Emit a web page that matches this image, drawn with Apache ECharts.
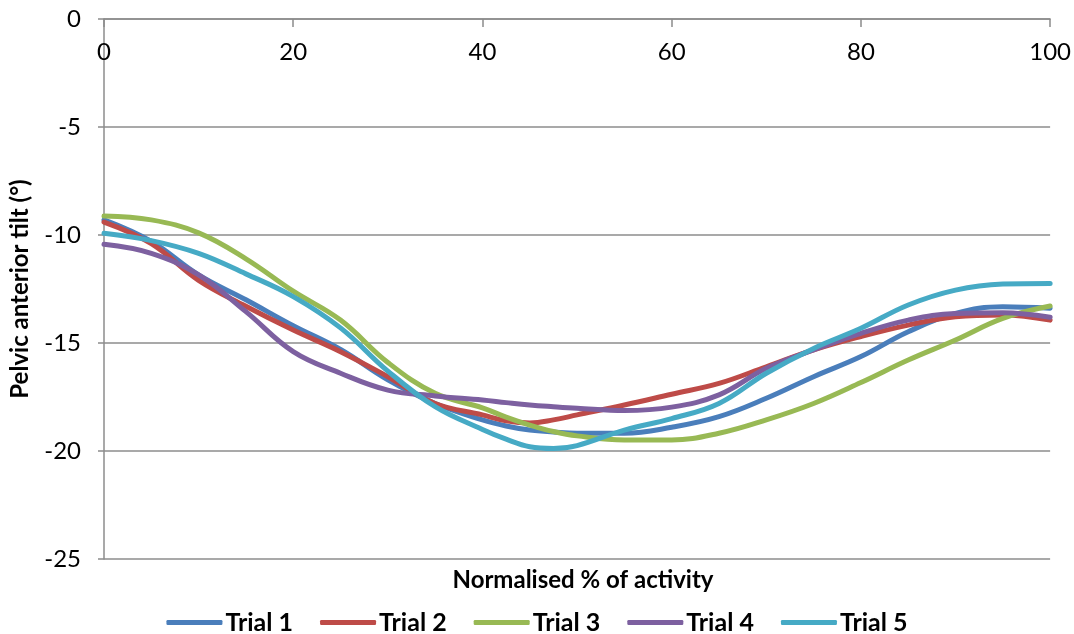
<!DOCTYPE html>
<html>
<head>
<meta charset="utf-8">
<title>Pelvic anterior tilt</title>
<script src="https://cdn.jsdelivr.net/npm/echarts@6/dist/echarts.min.js"></script>
<style>
  html, body { margin: 0; padding: 0; background: #ffffff; }
  #chart { width: 1074px; height: 634px; }
</style>
</head>
<body>
<div id="chart"></div>
<script>
// Normalised % of activity (x positions of the samples)
const activity = [0, 5, 10, 15, 20, 25, 30, 35, 40, 42.5, 45, 47.5, 50, 55, 60, 65, 70, 75, 80, 85, 90, 95, 100];

// Pelvic anterior tilt (degrees) per trial
const trial1 = [-9.3, -10.3, -11.85, -13.0, -14.2, -15.3, -16.7, -17.8, -18.56, -18.84, -19.03, -19.12, -19.18, -19.18, -18.9, -18.41, -17.56, -16.56, -15.63, -14.48, -13.63, -13.32, -13.39];
const trial2 = [-9.4, -10.4, -12.1, -13.3, -14.4, -15.4, -16.56, -17.8, -18.33, -18.6, -18.7, -18.56, -18.33, -17.87, -17.37, -16.87, -16.1, -15.32, -14.7, -14.17, -13.78, -13.7, -13.94];
const trial3 = [-9.12, -9.3, -9.9, -11.1, -12.6, -13.94, -15.9, -17.33, -18.0, -18.43, -18.8, -19.1, -19.3, -19.49, -19.49, -19.18, -18.56, -17.8, -16.83, -15.79, -14.86, -13.86, -13.29];
const trial4 = [-10.43, -10.85, -11.85, -13.55, -15.4, -16.4, -17.18, -17.45, -17.64, -17.76, -17.87, -17.95, -18.02, -18.13, -17.97, -17.4, -16.17, -15.32, -14.55, -13.94, -13.63, -13.6, -13.81];
const trial5 = [-9.92, -10.26, -10.85, -11.8, -12.85, -14.3, -16.3, -17.95, -19.0, -19.45, -19.8, -19.88, -19.75, -19.03, -18.5, -17.8, -16.4, -15.25, -14.32, -13.24, -12.55, -12.27, -12.24];

const seriesNames = ['Trial 1', 'Trial 2', 'Trial 3', 'Trial 4', 'Trial 5'];
const seriesValues = [trial1, trial2, trial3, trial4, trial5];
const seriesColors = ['#4A7EBB', '#BE4B48', '#98B954', '#7D60A0', '#46AAC5'];

const xTicks = { min: 0, max: 100, interval: 20 };
const yTicks = { min: -25, max: 0, interval: 5 };

const FONT = 'Lato, "Open Sans", sans-serif';
const GRID_COLOR = '#8C8C8C';

const chart = echarts.init(document.getElementById('chart'), null, { renderer: 'canvas' });

chart.setOption({
  backgroundColor: '#ffffff',
  animation: false,
  title: {
    text: 'Normalised % of activity',
    left: 578,
    top: 563,
    textAlign: 'center',
    textStyle: { fontFamily: FONT, fontSize: 24, fontWeight: 'bold', color: '#000000' }
  },
  legend: {
    top: 605,
    left: 'center',
    itemWidth: 56,
    itemHeight: 5,
    itemGap: 27,
    icon: 'roundRect',
    data: seriesNames,
    textStyle: { fontFamily: FONT, fontSize: 25, fontWeight: 'bold', color: '#000000', padding: [0, 0, 0, -2] }
  },
  grid: { left: 103, right: 21, top: 19, bottom: 75, containLabel: false },
  xAxis: {
    type: 'value',
    position: 'top',
    min: xTicks.min,
    max: xTicks.max,
    interval: xTicks.interval,
    axisLine: { onZero: false, lineStyle: { color: GRID_COLOR, width: 1.5 } },
    axisTick: { inside: true, length: 8, lineStyle: { color: GRID_COLOR, width: 1.5 } },
    axisLabel: { inside: true, margin: 21, fontFamily: FONT, fontSize: 24, color: '#000000' },
    splitLine: { show: false }
  },
  yAxis: {
    type: 'value',
    min: yTicks.min,
    max: yTicks.max,
    interval: yTicks.interval,
    name: 'Pelvic anterior tilt (°)',
    nameLocation: 'middle',
    nameGap: 72,
    nameRotate: 90,
    nameTextStyle: { fontFamily: FONT, fontSize: 24, fontWeight: 'bold', color: '#000000' },
    axisLine: { show: true, onZero: false, lineStyle: { color: GRID_COLOR, width: 1.5 } },
    axisTick: { show: true, length: 6, lineStyle: { color: GRID_COLOR, width: 1.5 } },
    axisLabel: { margin: 23, fontFamily: FONT, fontSize: 24, color: '#000000' },
    splitLine: { show: true, lineStyle: { color: GRID_COLOR, width: 1.5 } }
  },
  series: seriesNames.map((name, i) => ({
    name: name,
    type: 'line',
    smooth: 0.4,
    symbol: 'none',
    color: seriesColors[i],
    lineStyle: { width: 5, color: seriesColors[i], cap: 'round', join: 'round' },
    data: activity.map((x, j) => [x, seriesValues[i][j]])
  }))
});
</script>
</body>
</html>
